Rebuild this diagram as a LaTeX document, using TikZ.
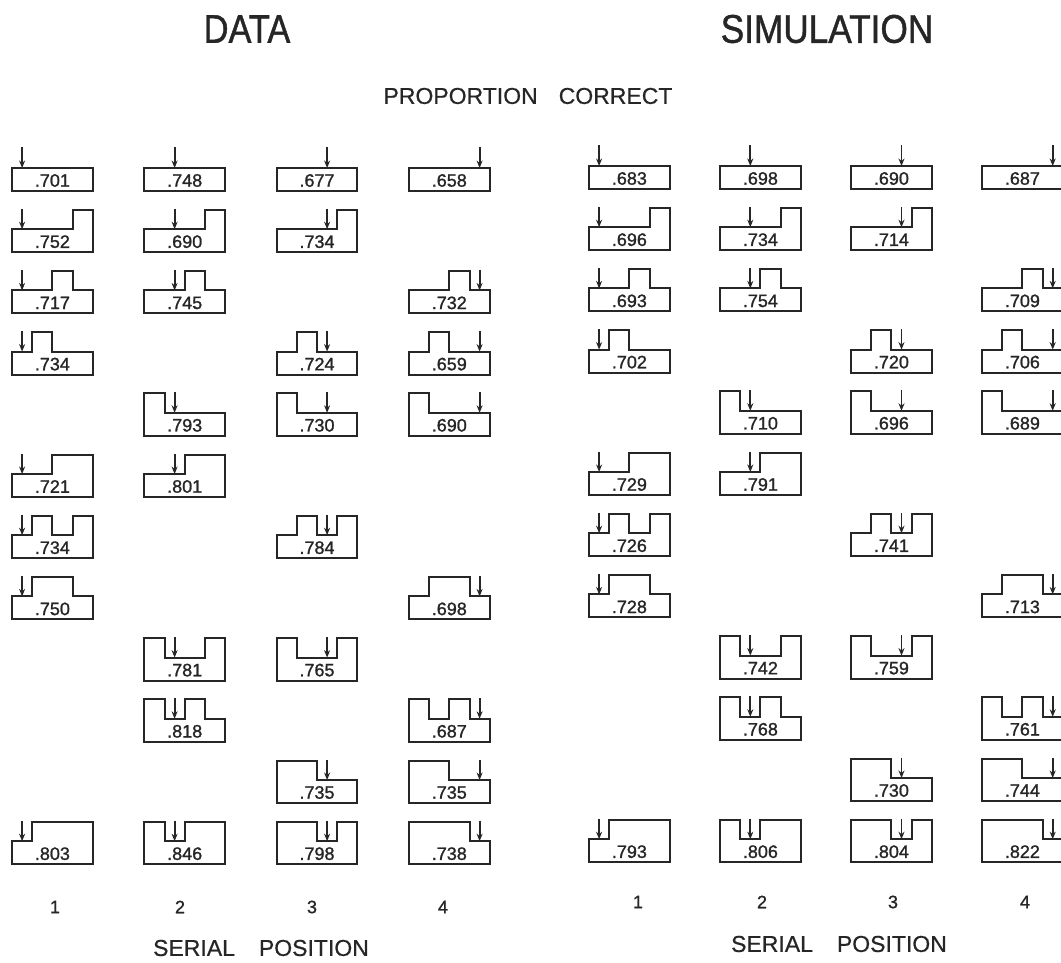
\documentclass[tikz,border=0pt]{standalone}
\usepackage{fontspec}
\usepackage{graphicx}
\setmainfont{Liberation Sans}
\newfontfamily\heavyfont[FakeBold=1.2]{Liberation Sans}
\newfontfamily\midfont[FakeBold=0.6]{Liberation Sans}
\usetikzlibrary{arrows.meta}
\definecolor{ink}{HTML}{262626}
\def\cw{20.2}
\def\bh{23}
\def\rh{19.5}
\newcommand{\G}[9]{%
  \pgfmathsetmacro\gx{#2}%
  \pgfmathsetmacro\gy{#3}%
  \draw[glyphline] (\gx,\gy)
    -- (\gx,{\gy-\bh-\rh*#4}) -- ({\gx+\cw},{\gy-\bh-\rh*#4})
    -- ({\gx+\cw},{\gy-\bh-\rh*#5}) -- ({\gx+2*\cw},{\gy-\bh-\rh*#5})
    -- ({\gx+2*\cw},{\gy-\bh-\rh*#6}) -- ({\gx+3*\cw},{\gy-\bh-\rh*#6})
    -- ({\gx+3*\cw},{\gy-\bh-\rh*#7}) -- ({\gx+4*\cw},{\gy-\bh-\rh*#7})
    -- ({\gx+4*\cw},\gy) -- cycle;
  \draw[arrowline] ({\gx+\cw*(#8-0.5)},{\gy-\bh-\rh-1}) -- ({\gx+\cw*(#8-0.5)},{\gy-\bh});
  \node[numtext] (#1) at ({\gx+2*\cw},{\gy-\bh/2+1}) {#9};
}
\newcommand{\DatG}[7]{\G{d-#1-#2}{12+132.3*(#2-1)}{191+61.2*(#1-1)}{#3}{#4}{#5}{#6}{#2}{#7}}
\newcommand{\SimG}[7]{\G{s-#1-#2}{589+131*(#2-1)}{189+61.2*(#1-1)}{#3}{#4}{#5}{#6}{#2}{#7}}
\begin{document}
\begin{tikzpicture}[x=1pt,y=-1pt,
  glyphline/.style={draw=ink,line width=2pt,line join=miter},
  arrowline/.style={draw=ink,line width=1.8pt,-{Stealth[length=7.5pt,width=6pt]}},
  numtext/.style={text=ink,font=\heavyfont\fontsize{18}{18}\selectfont,inner sep=0pt},
  titletext/.style={text=ink,font=\heavyfont\fontsize{40}{40}\selectfont,inner sep=0pt},
  labeltext/.style={text=ink,font=\midfont\fontsize{23}{23}\selectfont,inner sep=0pt},
  axistext/.style={text=ink,font=\heavyfont\fontsize{18}{18}\selectfont,inner sep=0pt}]
\useasboundingbox[fill=white] (0,0) rectangle (1061,963);

\node[titletext] (datatitle) at (247,29) {\scalebox{0.86}[1]{DATA}};
\node[titletext] (simtitle) at (827,29) {\scalebox{0.88}[1]{SIMULATION}};
\node[labeltext] (proptitle) at (528,96) {PROPORTION\hspace{21pt}CORRECT};

% DATA
\DatG{1}{1}{0}{0}{0}{0}{.701}
\DatG{1}{2}{0}{0}{0}{0}{.748}
\DatG{1}{3}{0}{0}{0}{0}{.677}
\DatG{1}{4}{0}{0}{0}{0}{.658}
\DatG{2}{1}{0}{0}{0}{1}{.752}
\DatG{2}{2}{0}{0}{0}{1}{.690}
\DatG{2}{3}{0}{0}{0}{1}{.734}
\DatG{3}{1}{0}{0}{1}{0}{.717}
\DatG{3}{2}{0}{0}{1}{0}{.745}
\DatG{3}{4}{0}{0}{1}{0}{.732}
\DatG{4}{1}{0}{1}{0}{0}{.734}
\DatG{4}{3}{0}{1}{0}{0}{.724}
\DatG{4}{4}{0}{1}{0}{0}{.659}
\DatG{5}{2}{1}{0}{0}{0}{.793}
\DatG{5}{3}{1}{0}{0}{0}{.730}
\DatG{5}{4}{1}{0}{0}{0}{.690}
\DatG{6}{1}{0}{0}{1}{1}{.721}
\DatG{6}{2}{0}{0}{1}{1}{.801}
\DatG{7}{1}{0}{1}{0}{1}{.734}
\DatG{7}{3}{0}{1}{0}{1}{.784}
\DatG{8}{1}{0}{1}{1}{0}{.750}
\DatG{8}{4}{0}{1}{1}{0}{.698}
\DatG{9}{2}{1}{0}{0}{1}{.781}
\DatG{9}{3}{1}{0}{0}{1}{.765}
\DatG{10}{2}{1}{0}{1}{0}{.818}
\DatG{10}{4}{1}{0}{1}{0}{.687}
\DatG{11}{3}{1}{1}{0}{0}{.735}
\DatG{11}{4}{1}{1}{0}{0}{.735}
\DatG{12}{1}{0}{1}{1}{1}{.803}
\DatG{12}{2}{1}{0}{1}{1}{.846}
\DatG{12}{3}{1}{1}{0}{1}{.798}
\DatG{12}{4}{1}{1}{1}{0}{.738}

% SIMULATION
\SimG{1}{1}{0}{0}{0}{0}{.683}
\SimG{1}{2}{0}{0}{0}{0}{.698}
\SimG{1}{3}{0}{0}{0}{0}{.690}
\SimG{1}{4}{0}{0}{0}{0}{.687}
\SimG{2}{1}{0}{0}{0}{1}{.696}
\SimG{2}{2}{0}{0}{0}{1}{.734}
\SimG{2}{3}{0}{0}{0}{1}{.714}
\SimG{3}{1}{0}{0}{1}{0}{.693}
\SimG{3}{2}{0}{0}{1}{0}{.754}
\SimG{3}{4}{0}{0}{1}{0}{.709}
\SimG{4}{1}{0}{1}{0}{0}{.702}
\SimG{4}{3}{0}{1}{0}{0}{.720}
\SimG{4}{4}{0}{1}{0}{0}{.706}
\SimG{5}{2}{1}{0}{0}{0}{.710}
\SimG{5}{3}{1}{0}{0}{0}{.696}
\SimG{5}{4}{1}{0}{0}{0}{.689}
\SimG{6}{1}{0}{0}{1}{1}{.729}
\SimG{6}{2}{0}{0}{1}{1}{.791}
\SimG{7}{1}{0}{1}{0}{1}{.726}
\SimG{7}{3}{0}{1}{0}{1}{.741}
\SimG{8}{1}{0}{1}{1}{0}{.728}
\SimG{8}{4}{0}{1}{1}{0}{.713}
\SimG{9}{2}{1}{0}{0}{1}{.742}
\SimG{9}{3}{1}{0}{0}{1}{.759}
\SimG{10}{2}{1}{0}{1}{0}{.768}
\SimG{10}{4}{1}{0}{1}{0}{.761}
\SimG{11}{3}{1}{1}{0}{0}{.730}
\SimG{11}{4}{1}{1}{0}{0}{.744}
\SimG{12}{1}{0}{1}{1}{1}{.793}
\SimG{12}{2}{1}{0}{1}{1}{.806}
\SimG{12}{3}{1}{1}{0}{1}{.804}
\SimG{12}{4}{1}{1}{1}{0}{.822}

% axes
\node[axistext] (dx1) at (55,907) {1};
\node[axistext] (dx2) at (180,907) {2};
\node[axistext] (dx3) at (312,907) {3};
\node[axistext] (dx4) at (443,907) {4};
\node[axistext] (sx1) at (638,902) {1};
\node[axistext] (sx2) at (762,902) {2};
\node[axistext] (sx3) at (893,902) {3};
\node[axistext] (sx4) at (1025,902) {4};
\node[labeltext] (dserial) at (261,948) {SERIAL\hspace{24pt}POSITION};
\node[labeltext] (sserial) at (839,944) {SERIAL\hspace{24pt}POSITION};
\end{tikzpicture}
\end{document}
